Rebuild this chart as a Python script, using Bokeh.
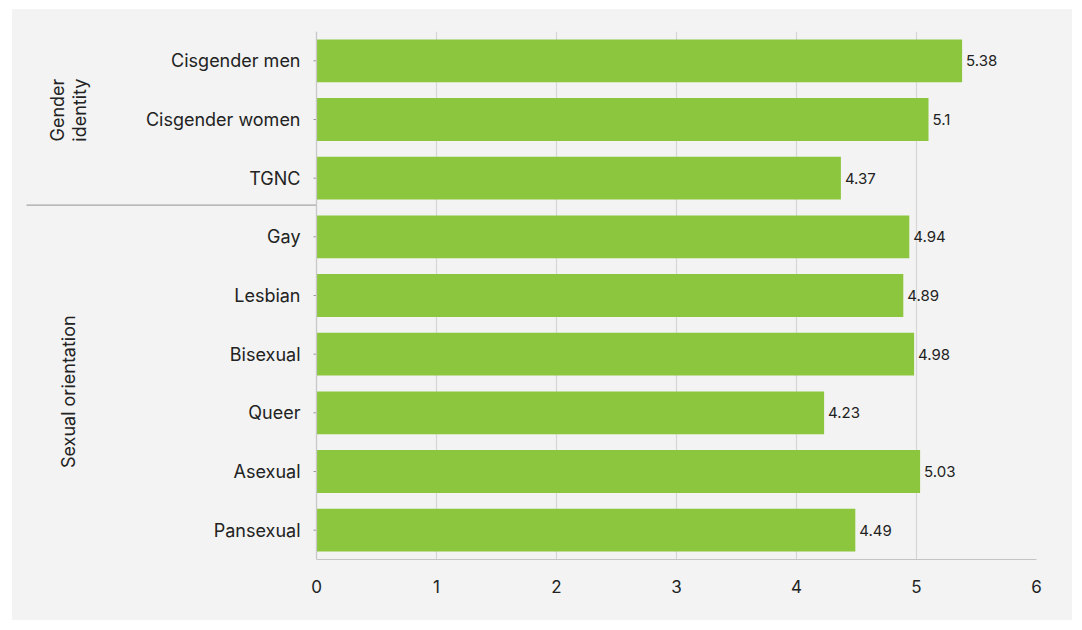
from bokeh.plotting import figure
from bokeh.models import FactorRange, Range1d, Span, FixedTicker, ColumnDataSource
from bokeh.core.properties import value
from bokeh.embed import file_html
from bokeh.resources import INLINE
import math

categories = ["Cisgender men", "Cisgender women", "TGNC", "Gay", "Lesbian",
              "Bisexual", "Queer", "Asexual", "Pansexual"]
scores = [5.38, 5.1, 4.37, 4.94, 4.89, 4.98, 4.23, 5.03, 4.49]
score_labels = ["5.38", "5.1", "4.37", "4.94", "4.89", "4.98", "4.23", "5.03", "4.49"]
group_names = ["Gender\nidentity", "Sexual orientation"]
group_anchor = [("Cisgender women", 0.16), ("Queer", 0.36)]
x_ticks = [0, 1, 2, 3, 4, 5, 6]

FONT = "Inter"
BG = "#f2f3f2"
GREEN = "#8cc63f"
TEXT = "#222222"

p = figure(width=1060, height=611, output_backend="svg", toolbar_location=None,
           y_range=FactorRange(factors=list(reversed(categories)), range_padding=0),
           x_range=Range1d(-2.4667, 6),
           min_border_left=8, min_border_right=36, min_border_top=22, min_border_bottom=61,
           background_fill_color=BG, border_fill_color=None, outline_line_color=None)
p.margin = (9, 10, 10, 12)
p.styles = {"background-color": BG}

n = len(categories)
src = ColumnDataSource(dict(cat=categories, val=scores, lab=score_labels,
                            lx=[-0.1333] * n, t0=[-0.025] * n, t1=[0] * n))

p.hbar(y="cat", right="val", left=0, height=0.73, source=src,
       fill_color=GREEN, line_color=None)

p.segment(x0="t0", x1="t1", y0="cat", y1="cat", source=src,
          line_color="#9a9a9a", line_width=1)

p.text(x="val", y="cat", text="lab", source=src, x_offset=4,
       text_align="left", text_baseline="middle", text_color=TEXT,
       text_font=value(FONT), text_font_size="15px")

p.text(x="lx", y="cat", text="cat", source=src,
       text_align="right", text_baseline="middle", text_color=TEXT,
       text_font=value(FONT), text_font_size="18px")

p.text(x=[-2.0667, -2.0667], y=group_anchor, text=group_names, angle=math.pi / 2,
       text_align="center", text_baseline="middle", text_color=TEXT,
       text_font=value(FONT), text_font_size="18px", text_line_height=1.05)

p.segment(x0=[-2.4167], x1=[0], y0=[("TGNC", -0.46)], y1=[("TGNC", -0.46)],
          line_color="#a6a6a6", line_width=1.2)

p.add_layout(Span(location=0, dimension="height", line_color="#c8c8c8", line_width=1.2))

p.yaxis.visible = False
p.ygrid.visible = False

p.xaxis.ticker = FixedTicker(ticks=x_ticks)
p.xaxis.bounds = (0, 6)
p.xaxis.axis_line_color = "#c4c4c4"
p.xaxis.axis_line_width = 1.2
p.xaxis.major_tick_line_color = None
p.xaxis.minor_tick_line_color = None
p.xaxis.major_label_standoff = 14
p.xaxis.major_label_text_font = FONT
p.xaxis.major_label_text_font_size = "17px"
p.xaxis.major_label_text_color = TEXT

p.xgrid.ticker = FixedTicker(ticks=x_ticks)
p.xgrid.bounds = (0.5, 5.5)
p.xgrid.grid_line_color = "#d6d6d6"
p.xgrid.grid_line_width = 1.2

open("out.html", "w").write(file_html(p, INLINE))
